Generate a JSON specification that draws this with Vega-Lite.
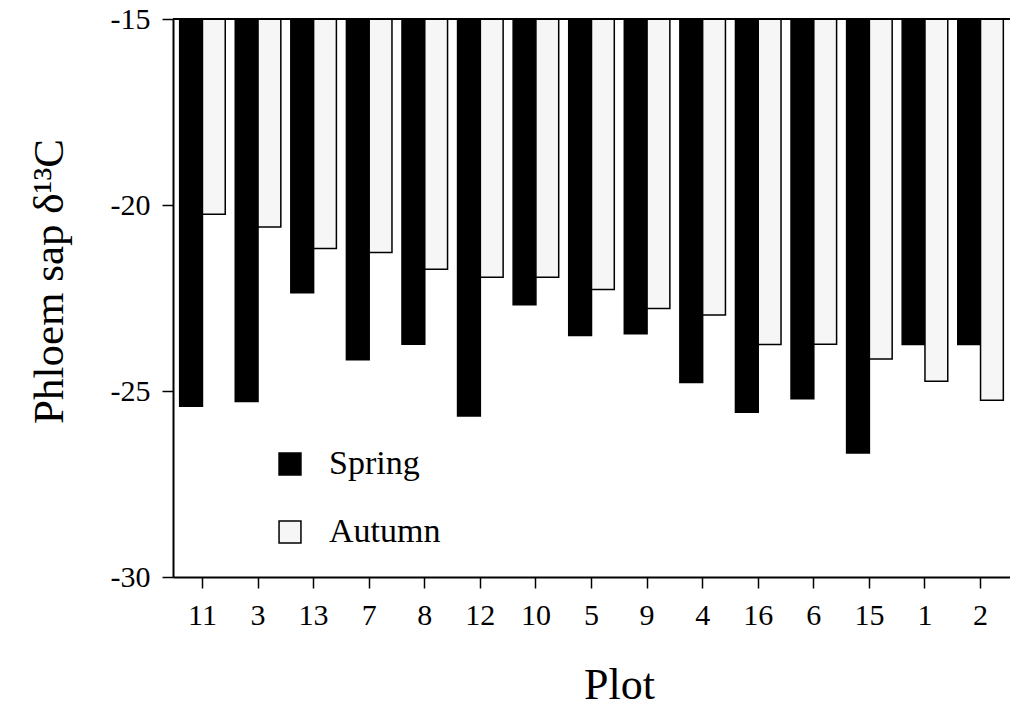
{
  "$schema": "https://vega.github.io/schema/vega-lite/v6.json",
  "autosize": {"type": "none"},
  "width": 837,
  "height": 558,
  "padding": {"left": 173, "top": 19, "right": 0, "bottom": 132},
  "background": "white",
  "config": {
    "view": {"stroke": null},
    "font": "Liberation Serif",
    "axis": {"labelFont": "Liberation Serif", "titleFont": "Liberation Serif", "labelColor": "black", "titleColor": "black", "titleFontWeight": "normal", "domainColor": "black", "tickColor": "black", "grid": false}
  },
  "data": {
    "values": [
      {"plot": "11", "season": "Spring", "value": -25.41},
      {"plot": "11", "season": "Autumn", "value": -20.25},
      {"plot": "3", "season": "Spring", "value": -25.28},
      {"plot": "3", "season": "Autumn", "value": -20.59},
      {"plot": "13", "season": "Spring", "value": -22.36},
      {"plot": "13", "season": "Autumn", "value": -21.17},
      {"plot": "7", "season": "Spring", "value": -24.16},
      {"plot": "7", "season": "Autumn", "value": -21.28},
      {"plot": "8", "season": "Spring", "value": -23.74},
      {"plot": "8", "season": "Autumn", "value": -21.73},
      {"plot": "12", "season": "Spring", "value": -25.67},
      {"plot": "12", "season": "Autumn", "value": -21.94},
      {"plot": "10", "season": "Spring", "value": -22.68},
      {"plot": "10", "season": "Autumn", "value": -21.94},
      {"plot": "5", "season": "Spring", "value": -23.51},
      {"plot": "5", "season": "Autumn", "value": -22.27},
      {"plot": "9", "season": "Spring", "value": -23.46},
      {"plot": "9", "season": "Autumn", "value": -22.78},
      {"plot": "4", "season": "Spring", "value": -24.77},
      {"plot": "4", "season": "Autumn", "value": -22.96},
      {"plot": "16", "season": "Spring", "value": -25.57},
      {"plot": "16", "season": "Autumn", "value": -23.75},
      {"plot": "6", "season": "Spring", "value": -25.21},
      {"plot": "6", "season": "Autumn", "value": -23.74},
      {"plot": "15", "season": "Spring", "value": -26.67},
      {"plot": "15", "season": "Autumn", "value": -24.14},
      {"plot": "1", "season": "Spring", "value": -23.75},
      {"plot": "1", "season": "Autumn", "value": -24.74},
      {"plot": "2", "season": "Spring", "value": -23.75},
      {"plot": "2", "season": "Autumn", "value": -25.25}
    ]
  },
  "layer": [
    {
      "mark": {"type": "bar", "stroke": "black", "strokeWidth": 1.5},
      "encoding": {
        "x": {
          "field": "plot", "type": "nominal",
          "sort": ["11", "3", "13", "7", "8", "12", "10", "5", "9", "4", "16", "6", "15", "1", "2"],
          "scale": {"paddingInner": 0.18, "paddingOuter": 0.12},
          "axis": {"title": "Plot", "labelAngle": 0, "labelFontSize": 30, "labelPadding": 12, "tickSize": 11, "tickWidth": 1.5, "domainWidth": 2, "titleFontSize": 44, "titleX": 446, "titleY": 121, "titleBaseline": "alphabetic"}
        },
        "xOffset": {"field": "season", "type": "nominal", "sort": ["Spring", "Autumn"], "scale": {"paddingInner": 0, "paddingOuter": 0}},
        "y": {
          "field": "value", "type": "quantitative",
          "scale": {"domain": [-30, -15], "nice": false, "zero": false},
          "axis": {"title": "Phloem sap δ¹³C", "values": [-30, -25, -20, -15], "labelExpr": "'' + datum.value", "labelFontSize": 30, "labelPadding": 12, "tickSize": 11, "tickWidth": 1.5, "domainWidth": 2, "titleFontSize": 43, "titleX": -111, "titleY": 262, "titleBaseline": "alphabetic"}
        },
        "y2": {"datum": -15},
        "fill": {
          "field": "season", "type": "nominal",
          "scale": {"domain": ["Spring", "Autumn"], "range": ["black", "#f6f6f6"]},
          "legend": {"title": null, "orient": "none", "legendX": 100, "legendY": 428, "symbolType": "square", "symbolSize": 480, "symbolStrokeColor": "black", "symbolStrokeWidth": 1.5, "labelFontSize": 34, "labelFont": "Liberation Serif", "labelColor": "black", "labelOffset": 22, "rowPadding": 34}
        }
      }
    },
    {
      "mark": {"type": "rule", "color": "black", "strokeWidth": 2},
      "encoding": {"y": {"datum": -15}}
    }
  ]
}
